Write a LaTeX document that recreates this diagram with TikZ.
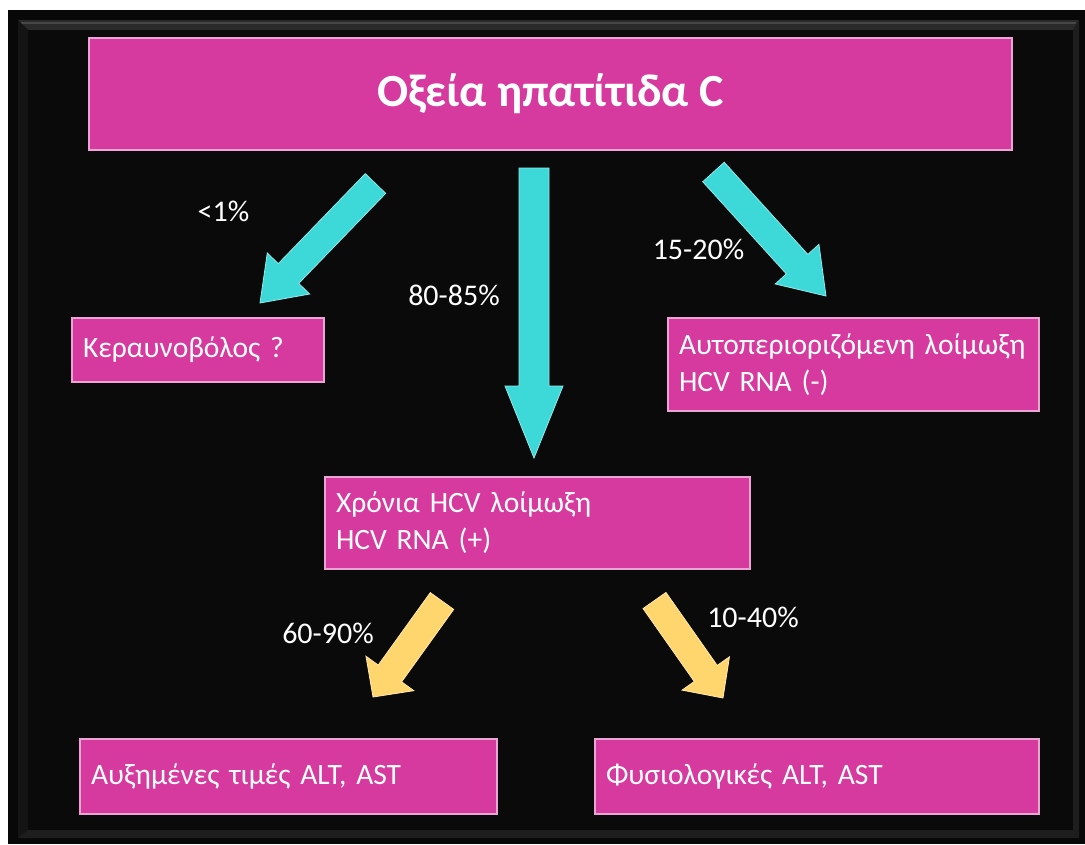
\documentclass[tikz,border=0pt]{standalone}
\usepackage{fontspec}
\setmainfont{Carlito}
\usetikzlibrary{calc}
\definecolor{bgblack}{HTML}{0A0A0A}
\definecolor{boxpink}{HTML}{D63A9F}
\definecolor{boxedge}{HTML}{EBA5D5}
\definecolor{cyanarrow}{HTML}{3DD8D8}
\definecolor{yellowarrow}{HTML}{FFD56E}
\definecolor{bevtop}{HTML}{2A2A2A}
\definecolor{bevline}{HTML}{474747}
\definecolor{bevside}{HTML}{141414}
\definecolor{bevbot}{HTML}{1E1E1E}
\newcommand{\blockarrow}[6]{%
  \coordinate (#1h) at ($(#2)!#4!(#1)$);
  \filldraw[#6] ($(#1)!#3!90:(#2)$) -- ($(#1h)!#3!90:(#2)$) -- ($(#1h)!#5!90:(#2)$) -- (#2)
    -- ($(#1h)!#5!-90:(#2)$) -- ($(#1h)!#3!-90:(#2)$) -- ($(#1)!#3!-90:(#2)$) -- cycle;}
\tikzset{
  box/.style={rectangle, fill=boxpink, draw=boxedge, line width=1.2pt, inner xsep=11pt, inner ysep=0pt,
    align=left, text=white, font=\fontsize{29.5}{37}\selectfont},
  lbl/.style={text=white, inner sep=0pt, font=\fontsize{30}{36}\selectfont},
  cyanarr/.style={fill=cyanarrow, draw=cyanarrow!55!white, line width=0.8pt, line join=miter},
  yellowarr/.style={fill=yellowarrow, draw=yellowarrow!55!white, line width=0.8pt, line join=miter}
}
\begin{document}
\begin{tikzpicture}[x=1pt, y=-1pt]
\useasboundingbox (0,0) rectangle (1085,844);
\fill[white] (0,0) rectangle (1085,844);
% frame
\fill[black!97] (8,10) rectangle (1085,844);
\fill[bevtop] (18,20) -- (1079,20) -- (1073,30) -- (28,30) -- cycle;
\draw[bevline, line width=2pt] (21,23) -- (1076,23);
\fill[bevside] (18,20) -- (28,30) -- (28,830) -- (18,838) -- cycle;
\fill[bevbot] (18,838) -- (28,830) -- (1073,830) -- (1079,838) -- cycle;
\fill[bevbot] (1073,30) -- (1079,20) -- (1079,838) -- (1073,830) -- cycle;
\fill[bgblack] (28,30) rectangle (1073,830);

% boxes
\node[box, align=center, font=\bfseries\fontsize{46}{52}\selectfont, minimum width=923pt, minimum height=112pt] (title) at (550.5,94) {Οξεία ηπατίτιδα C};
\node[box, minimum width=252pt, minimum height=64pt, text width=230pt] (kera) at (198,350) {Κεραυνοβόλος~?};
\node[box, minimum width=371pt, minimum height=93pt, text width=349pt] (auto) at (853.5,364.5) {Αυτοπεριοριζόμενη~λοίμωξη\\HCV~RNA~(-)};
\node[box, minimum width=425pt, minimum height=92pt, text width=403pt] (xron) at (537.5,523) {Χρόνια~HCV~λοίμωξη\\HCV~RNA~(+)};
\node[box, minimum width=417pt, minimum height=75pt, text width=395pt] (afx) at (288.5,776.5) {Αυξημένες~τιμές~ALT,~AST};
\node[box, minimum width=444pt, minimum height=75pt, text width=422pt] (fys) at (817,776.5) {Φυσιολογικές~ALT,~AST};

% arrow ends
\coordinate (cl) at (375.5,183.5); \coordinate (clt) at (260,303);
\coordinate (cm) at (534,168);     \coordinate (cmt) at (534,458);
\coordinate (cr) at (713.5,172);   \coordinate (crt) at (826,296);
\coordinate (yl) at (442,601);     \coordinate (ylt) at (373,697);
\coordinate (yr) at (654.5,600.5); \coordinate (yrt) at (723,698);

\blockarrow{cl}{clt}{14.2pt}{41pt}{29.5pt}{cyanarr}
\blockarrow{cm}{cmt}{15pt}{72pt}{29pt}{cyanarr}
\blockarrow{cr}{crt}{14.5pt}{43pt}{29.5pt}{cyanarr}
\blockarrow{yl}{ylt}{14.4pt}{29pt}{29.5pt}{yellowarr}
\blockarrow{yr}{yrt}{14pt}{30pt}{29pt}{yellowarr}

% labels
\node[lbl] (p1) at (223.5,211) {<1\%};
\node[lbl] (p2) at (454,295.5) {80-85\%};
\node[lbl] (p3) at (698.5,249) {15-20\%};
\node[lbl] (p4) at (328,633) {60-90\%};
\node[lbl] (p5) at (753,617) {10-40\%};
\end{tikzpicture}
\end{document}
